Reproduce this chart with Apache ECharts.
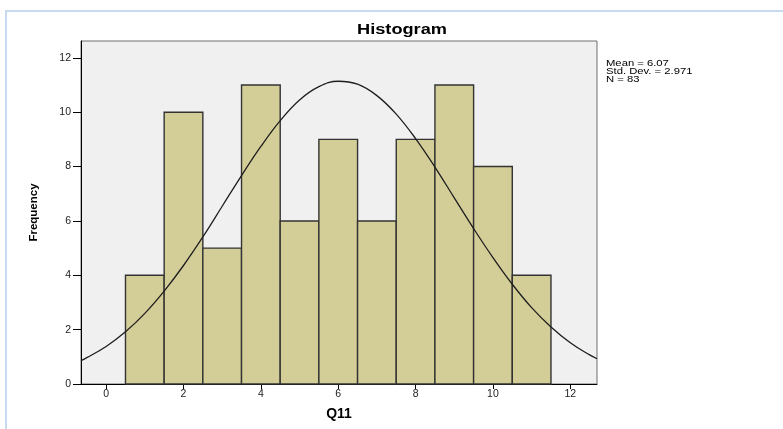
<!DOCTYPE html>
<html>
<head>
<meta charset="utf-8">
<script src="https://cdn.jsdelivr.net/npm/echarts@6/dist/echarts.min.js"></script>
<style>html,body{margin:0;padding:0;background:#fff;}#c{width:783px;height:429px;}</style>
</head>
<body>
<div id="c"></div>
<script>
// bin centres and frequencies
var binCenters = [1, 2, 3, 4, 5, 6, 7, 8, 9, 10, 11];
var frequencies = [4, 10, 5, 11, 6, 9, 6, 9, 11, 8, 4];
// normal curve (x, frequency)
var curveX = [-0.65, -0.5, 0, 0.5, 1, 1.5, 2, 2.5, 3, 3.5, 4, 4.5, 5, 5.5, 6, 6.5, 7, 7.5, 8, 8.5, 9, 9.5, 10, 10.5, 11, 11.5, 12, 12.5, 12.69];
var curveY = [0.86, 0.97, 1.38, 1.92, 2.60, 3.42, 4.36, 5.41, 6.54, 7.67, 8.74, 9.69, 10.45, 10.94, 11.14, 11.03, 10.61, 9.93, 9.03, 7.98, 6.85, 5.72, 4.65, 3.67, 2.81, 2.10, 1.52, 1.07, 0.93];
var xTicks = [0, 2, 4, 6, 8, 10, 12];
var yTicks = [0, 2, 4, 6, 8, 10, 12];
var statsLines = ['Mean = 6.07', 'Std. Dev. = 2.971', 'N = 83'];
var titleText = 'Histogram';
var xName = 'Q11';
var yName = 'Frequency';

var barData = binCenters.map(function (c, i) { return [c, frequencies[i]]; });
var curveData = curveX.map(function (x, i) { return [x, curveY[i]]; });

var chart = echarts.init(document.getElementById('c'), null, {renderer: 'canvas'});
var font = 'Liberation Sans, Arial, sans-serif';

var graphics = [
  {type: 'rect', shape: {x: 6, y: 11, width: 800, height: 430}, style: {fill: 'none', stroke: '#c8daf1', lineWidth: 2}, silent: true},
  {type: 'text', x: 402, y: 30, scaleX: 1.3, style: {text: titleText, x: 0, y: 0, textAlign: 'center', textVerticalAlign: 'middle', font: 'bold 14px ' + font, fill: '#000'}}
];
statsLines.forEach(function (t, i) {
  graphics.push({type: 'text', x: 606, y: 63.5 + i * 8, scaleX: 1.25, style: {text: t, x: 0, y: 0, textAlign: 'left', textVerticalAlign: 'middle', font: '9px ' + font, fill: '#000'}});
});

chart.setOption({
  animation: false,
  backgroundColor: '#fff',
  grid: {left: 81, top: 41, right: 186, bottom: 45, show: true, backgroundColor: '#F0F0F0', borderColor: '#6e6e6e', borderWidth: 1},
  xAxis: {
    type: 'value', min: -0.65, max: 12.69,
    name: xName, nameLocation: 'middle', nameGap: 23,
    nameTextStyle: {fontFamily: font, fontWeight: 'bold', fontSize: 14, color: '#000'},
    axisLine: {show: true, onZero: false, lineStyle: {color: '#000', width: 1}},
    axisTick: {show: true, length: 5, lineStyle: {color: '#000'}, customValues: xTicks},
    axisLabel: {fontFamily: font, fontSize: 10.5, color: '#222', margin: 5, customValues: xTicks},
    splitLine: {show: false}
  },
  yAxis: {
    type: 'value', min: 0, max: 12.62,
    name: yName, nameLocation: 'middle', nameGap: 41, nameRotate: 90,
    nameTextStyle: {fontFamily: font, fontWeight: 'bold', fontSize: 11.5, color: '#000'},
    axisLine: {show: true, onZero: false, lineStyle: {color: '#000', width: 1}},
    axisTick: {show: true, length: 8, lineStyle: {color: '#000'}, customValues: yTicks},
    axisLabel: {fontFamily: font, fontSize: 10.5, color: '#222', margin: 10, customValues: yTicks},
    splitLine: {show: false}
  },
  series: [
    {
      type: 'custom',
      data: barData,
      z: 2,
      renderItem: function (params, api) {
        var c = api.value(0), v = api.value(1);
        var p0 = api.coord([c - 0.5, v]);
        var p1 = api.coord([c + 0.5, 0]);
        return {
          type: 'rect',
          shape: {x: p0[0], y: p0[1], width: p1[0] - p0[0], height: p1[1] - p0[1]},
          style: {fill: '#D3CE97', stroke: '#333333', lineWidth: 1.4}
        };
      }
    },
    {
      type: 'line', data: curveData, smooth: 0.4, showSymbol: false, z: 3,
      lineStyle: {color: '#1e1e1e', width: 1.3}
    }
  ],
  graphic: graphics
});
</script>
</body>
</html>
